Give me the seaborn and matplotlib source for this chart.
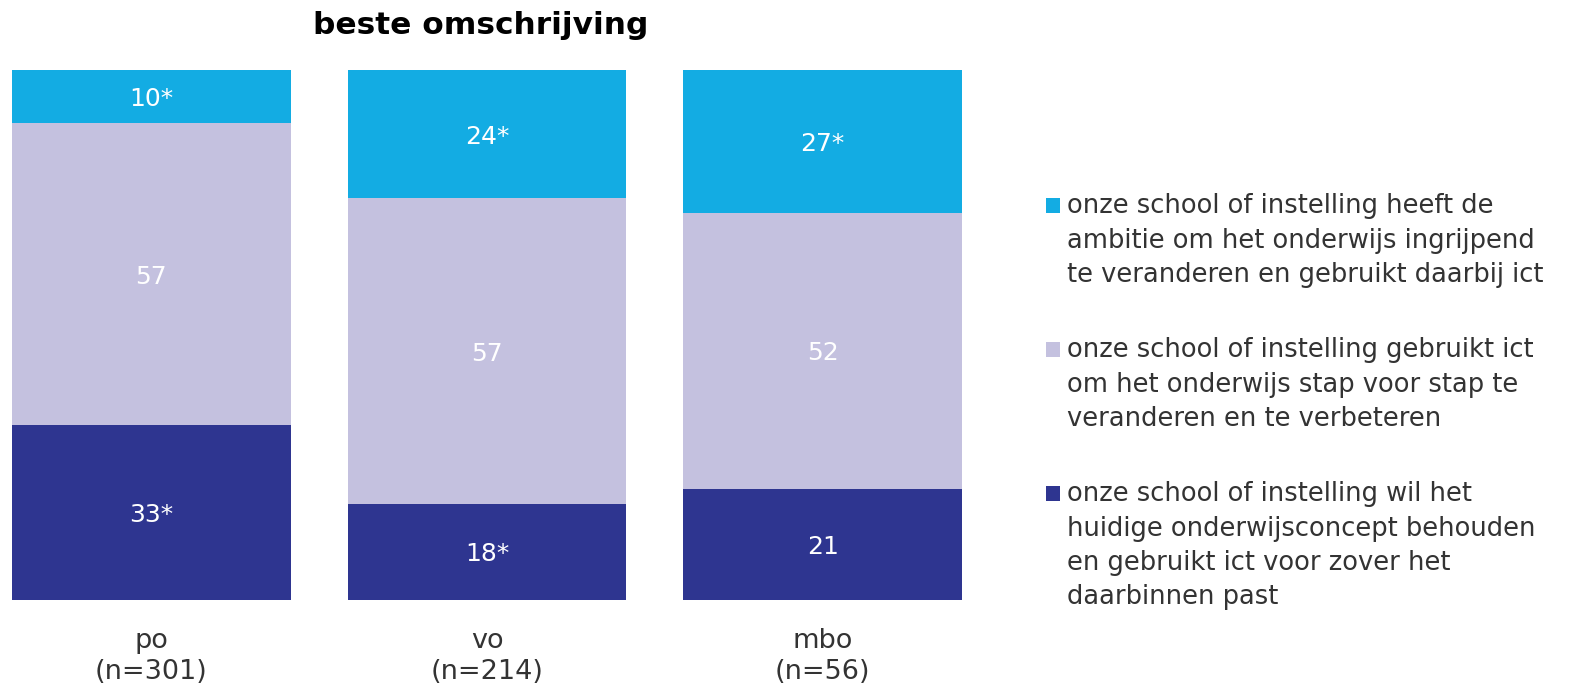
import matplotlib
matplotlib.use("Agg")
import matplotlib.pyplot as plt
import seaborn as sns
import numpy as np
from matplotlib.patches import Rectangle

# data
categories = ["po\n(n=301)", "vo\n(n=214)", "mbo\n(n=56)"]
series_names = [
    "onze school of instelling wil het\nhuidige onderwijsconcept behouden\nen gebruikt ict voor zover het\ndaarbinnen past",
    "onze school of instelling gebruikt ict\nom het onderwijs stap voor stap te\nveranderen en te verbeteren",
    "onze school of instelling heeft de\nambitie om het onderwijs ingrijpend\nte veranderen en gebruikt daarbij ict",
]
behouden = [33, 18, 21]
stap_voor_stap = [57, 57, 52]
ingrijpend = [10, 24, 27]
value_labels = [
    ["33*", "18*", "21"],
    ["57", "57", "52"],
    ["10*", "24*", "27*"],
]
colors = ["#2E3590", "#C4C1DF", "#13ACE3"]

sns.set_theme(style="white")
plt.rcParams["font.family"] = ["DejaVu Sans"]

fig = plt.figure(figsize=(15.77, 6.85), dpi=100)
ax = fig.add_axes([12 / 1577, 1 - 600 / 685, 950 / 1577, 530 / 685])

layers = np.array([behouden, stap_voor_stap, ingrijpend], dtype=float)
# 100% stacked: rounded values are scaled to fill the bar
shares = layers / layers.sum(axis=0) * 100

bottom = np.zeros(len(categories))
for vals, col, labels in zip(shares, colors, value_labels):
    sns.barplot(x=categories, y=vals, bottom=bottom, color=col, width=0.83,
                saturation=1, linewidth=0, ax=ax)
    for i, (v, lab) in enumerate(zip(vals, labels)):
        ax.text(i, bottom[i] + v / 2, lab, ha="center", va="center_baseline",
                color="white", fontsize=18)
    bottom = bottom + vals

ax.set_xlim(-0.415, 2.415)
ax.set_ylim(0, 100)
ax.set_yticks([])
ax.set_ylabel("")
ax.tick_params(axis="x", length=0, pad=20, labelsize=19.5, labelcolor="#333333")
for lab in ax.get_xticklabels():
    lab.set_linespacing(1.25)
sns.despine(ax=ax, left=True, bottom=True)

fig.text(481 / 1577, 1 - 25 / 685, "beste omschrijving", ha="center", va="center",
         fontsize=22.5, fontweight="bold", color="black")

# legend drawn by hand so the square sits on the first line
legend_y = [205, 349, 493]
for name, col, y in zip(reversed(series_names), reversed(colors), legend_y):
    fig.patches.append(Rectangle((1046 / 1577, 1 - (y + 7.5) / 685), 14 / 1577, 15 / 685,
                                 transform=fig.transFigure, facecolor=col, edgecolor="none"))
    fig.text(1067 / 1577, 1 - (y - 11.6) / 685, name, ha="left", va="top",
             fontsize=18.5, color="#333333", linespacing=1.41)

fig.savefig("out.png", dpi=100)
